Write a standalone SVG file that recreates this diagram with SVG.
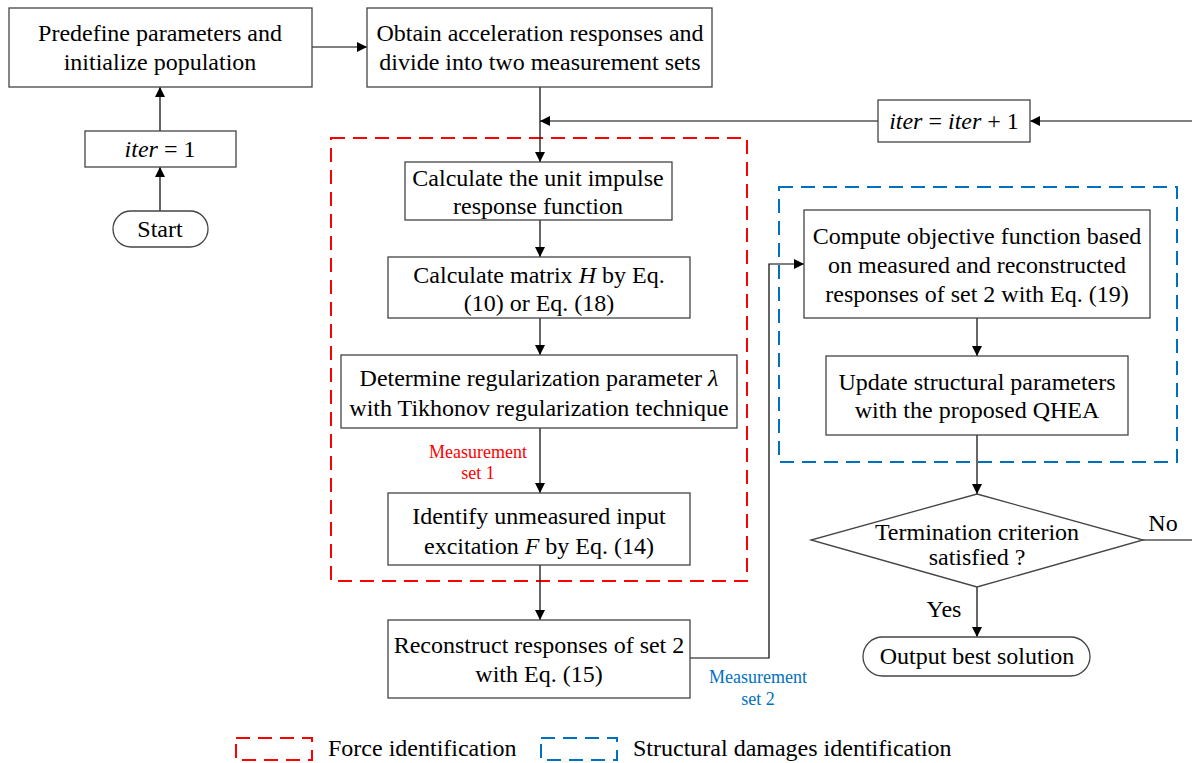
<svg xmlns="http://www.w3.org/2000/svg" width="1192" height="763" viewBox="0 0 1192 763">
<defs>
<marker id="ah" viewBox="0 0 10 10" refX="10" refY="5" markerWidth="12" markerHeight="10" markerUnits="userSpaceOnUse" orient="auto">
<path d="M0,0 L10,5 L0,10 z" fill="#000"/>
</marker>
<style>
.box{fill:#fff;stroke:#444;stroke-width:1.3}
.t{font-family:"Liberation Serif","Times New Roman",serif;font-size:24px;fill:#000;text-anchor:middle}
.i{font-style:italic}
.c{fill:none;stroke:#000;stroke-width:1.2}
.m{font-family:"Liberation Serif","Times New Roman",serif;font-size:18px;text-anchor:middle}
.red{fill:none;stroke:#ff0000;stroke-width:2;stroke-dasharray:14 8}
.blue{fill:none;stroke:#0070c0;stroke-width:2;stroke-dasharray:14 8}
</style>
</defs>
<rect width="1192" height="763" fill="#fff"/>

<g id="groups">
<rect class="red" x="331" y="138" width="416" height="443"/>
<rect class="blue" x="779" y="187" width="398" height="275"/>
</g>

<g id="connectors">
<path class="c" d="M160,211 V167" marker-end="url(#ah)"/>
<path class="c" d="M160,131 V87" marker-end="url(#ah)"/>
<path class="c" d="M312,47 H367" marker-end="url(#ah)"/>
<path class="c" d="M540,87 V162" marker-end="url(#ah)"/>
<path class="c" d="M878,121 H540" marker-end="url(#ah)"/>
<path class="c" d="M1192,121 H1030" marker-end="url(#ah)"/>
<path class="c" d="M540,220 V257" marker-end="url(#ah)"/>
<path class="c" d="M540,318 V355" marker-end="url(#ah)"/>
<path class="c" d="M540,428 V493" marker-end="url(#ah)"/>
<path class="c" d="M540,565 V620" marker-end="url(#ah)"/>
<path class="c" d="M690,658 H769 V264 H804" marker-end="url(#ah)"/>
<path class="c" d="M977,318 V356" marker-end="url(#ah)"/>
<path class="c" d="M977,435 V494" marker-end="url(#ah)"/>
<path class="c" d="M977,587 V637" marker-end="url(#ah)"/>
<path class="c" d="M1143,540 H1192"/>
<text class="m" x="478" y="458" fill="#ff0000">Measurement</text>
<text class="m" x="478" y="479" fill="#ff0000">set 1</text>
<text class="m" x="758" y="683" fill="#0070c0">Measurement</text>
<text class="m" x="758" y="705" fill="#0070c0">set 2</text>
<text class="t" x="944" y="617">Yes</text>
<text class="t" x="1163" y="531">No</text>
</g>

<g id="n-predefine">
<rect class="box" x="9" y="8" width="303" height="79"/>
<text class="t" x="160" y="41">Predefine parameters and</text>
<text class="t" x="160" y="70">initialize population</text>
</g>
<g id="n-obtain">
<rect class="box" x="367" y="8" width="345" height="79"/>
<text class="t" x="540" y="41">Obtain acceleration responses and</text>
<text class="t" x="540" y="70">divide into two measurement sets</text>
</g>
<g id="n-iter1">
<rect class="box" x="85" y="131" width="151" height="36"/>
<text class="t" x="160" y="157"><tspan class="i">iter</tspan> = 1</text>
</g>
<g id="n-start">
<rect class="box" x="113" y="211" width="95" height="36" rx="18"/>
<text class="t" x="160" y="237">Start</text>
</g>
<g id="n-iterinc">
<rect class="box" x="878" y="100" width="152" height="42"/>
<text class="t" x="954" y="129"><tspan class="i">iter</tspan> = <tspan class="i">iter</tspan> + 1</text>
</g>
<g id="n-impulse">
<rect class="box" x="405" y="162" width="267" height="58"/>
<text class="t" x="538" y="186">Calculate the unit impulse</text>
<text class="t" x="538" y="214">response function</text>
</g>
<g id="n-matrix">
<rect class="box" x="388" y="257" width="302" height="61"/>
<text class="t" x="539" y="283">Calculate matrix <tspan class="i">H</tspan> by Eq.</text>
<text class="t" x="539" y="311">(10) or Eq. (18)</text>
</g>
<g id="n-lambda">
<rect class="box" x="341" y="355" width="396" height="73"/>
<text class="t" x="539" y="386">Determine regularization parameter <tspan class="i">λ</tspan></text>
<text class="t" x="539" y="416">with Tikhonov regularization technique</text>
</g>
<g id="n-identify">
<rect class="box" x="388" y="493" width="302" height="72"/>
<text class="t" x="539" y="524">Identify unmeasured input</text>
<text class="t" x="539" y="554">excitation <tspan class="i">F</tspan> by Eq. (14)</text>
</g>
<g id="n-reconstruct">
<rect class="box" x="388" y="620" width="302" height="78"/>
<text class="t" x="539" y="653">Reconstruct responses of set 2</text>
<text class="t" x="539" y="682">with Eq. (15)</text>
</g>
<g id="n-compute">
<rect class="box" x="804" y="210" width="346" height="108"/>
<text class="t" x="977" y="244">Compute objective function based</text>
<text class="t" x="977" y="273">on measured and reconstructed</text>
<text class="t" x="977" y="302">responses of set 2 with Eq. (19)</text>
</g>
<g id="n-update">
<rect class="box" x="826" y="356" width="302" height="79"/>
<text class="t" x="977" y="390">Update structural parameters</text>
<text class="t" x="977" y="418">with the proposed QHEA</text>
</g>
<g id="n-termination">
<polygon class="box" points="977,494 1143,540 977,587 811,540"/>
<text class="t" x="977" y="540">Termination criterion</text>
<text class="t" x="977" y="565">satisfied ?</text>
</g>
<g id="n-output">
<rect class="box" x="863" y="637" width="227" height="39" rx="19.5"/>
<text class="t" x="977" y="664">Output best solution</text>
</g>

<g id="legend">
<rect class="red" x="236" y="738" width="76" height="22"/>
<text class="t" x="328" y="756" style="text-anchor:start">Force identification</text>
<rect class="blue" x="541" y="738" width="76" height="22"/>
<text class="t" x="633" y="756" style="text-anchor:start">Structural damages identification</text>
</g>
</svg>
